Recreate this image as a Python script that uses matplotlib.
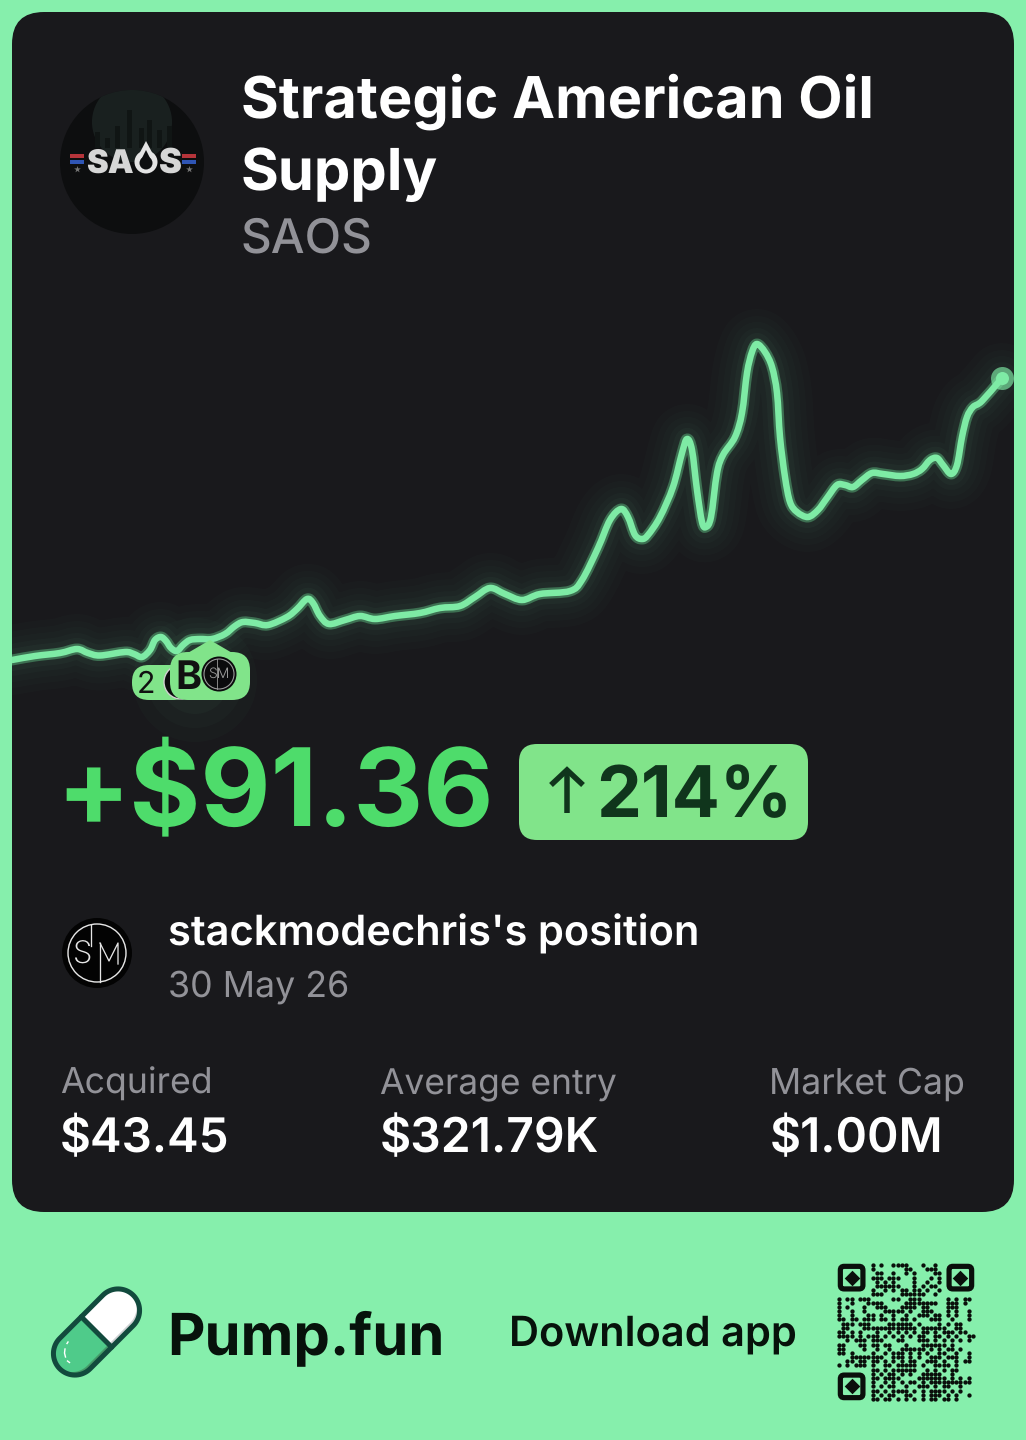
import numpy as np
import matplotlib
matplotlib.use("Agg")
import matplotlib.pyplot as plt
from matplotlib.font_manager import FontProperties
from matplotlib.patches import Circle, FancyBboxPatch, PathPatch, Polygon, Rectangle
from matplotlib.path import Path
from matplotlib.textpath import TextPath

plt.rcParams["text.hinting"] = "no_hinting"
plt.rcParams["text.hinting_factor"] = 1

W, H = 1026, 1440
BG = "#86efac"
CARD = "#19191c"
LINE = "#7eeba5"
PILL = "#81e48a"
PROFIT = "#4edc6b"
DARK = "#10351c"
GREY = "#929298"
FONT = "Inter"

# chart line (time step, value above the chart floor)
price_t = [0, 23, 48, 65, 76, 88, 113, 122, 130, 138, 143, 149, 154, 159, 165, 171, 178, 188, 200, 213,
           223, 231, 243, 256, 275, 285, 295, 301, 308, 317, 333, 348, 363, 383, 408, 428, 448, 463, 478,
           493, 510, 528, 558, 570, 586, 598, 609, 616, 623, 630, 636, 648, 661, 670, 675, 680, 685, 690,
           694, 699, 705, 711, 723, 730, 735, 740, 745, 753, 760, 765, 768, 773, 778, 785, 796, 806, 815,
           825, 833, 841, 850, 860, 871, 888, 901, 910, 918, 925, 931, 939, 945, 950, 955, 961, 970, 990]
price_v = [20, 24, 27, 31, 27, 24.5, 28, 26, 23, 30, 40, 43, 39, 32, 29, 35, 40, 41, 41, 46,
           54, 58, 57, 55, 63, 71, 81, 77, 64, 56, 60, 64, 61, 64, 67, 72, 74, 83, 92,
           86, 80, 86, 89, 100, 132, 160, 171, 163, 145, 141, 145, 163, 193, 227, 241, 230, 190, 158,
           153, 163, 207, 225, 243, 267, 307, 328, 336, 328, 313, 287, 243, 203, 178, 168, 163, 170, 182,
           195, 195, 193, 200, 207, 206, 204, 206, 211, 220, 222, 215, 206, 215, 243, 263, 273, 279, 302]

title_lines = ["Strategic American Oil", "Supply"]
ticker = "SAOS"
profit_label = "+$91.36"
percent_label = "214%"
owner_label = "stackmodechris's position"
date_label = "30 May 26"
stat_names = ["Acquired", "Average entry", "Market Cap"]
stat_values = ["$43.45", "$321.79K", "$1.00M"]

# dark qr modules per row, the three corner squares are drawn apart
qr_rows = [
    [8, 10, 13, 14, 15, 16, 20, 23],
    [8, 16, 17, 21, 22, 23],
    [9, 10, 13, 16, 18, 23, 24],
    [8, 9, 10, 12, 13, 14, 18, 22, 24],
    [9, 11, 13, 18, 21, 24],
    [9, 10, 11, 12, 13, 14, 18, 20, 22, 23],
    [8, 11, 13, 15, 16, 18, 19, 21, 24],
    [8, 9, 10, 15, 16, 17, 18, 19, 20, 23],
    [0, 2, 3, 5, 6, 7, 13, 14, 17, 18, 19, 26, 28, 30, 31],
    [0, 3, 7, 8, 9, 10, 16, 17, 18, 19, 20, 21, 22, 23, 26, 27, 28, 30],
    [0, 2, 6, 9, 10, 11, 15, 16, 17, 18, 20, 21, 26, 27, 28],
    [0, 3, 6, 11, 12, 13, 14, 15, 17, 20, 21, 22, 26, 28, 31],
    [0, 3, 7, 8, 10, 13, 16, 19, 20, 21, 23, 24, 26, 28, 31],
    [0, 1, 3, 4, 6, 7, 8, 10, 11, 13, 15, 16, 18, 22, 23, 24, 27, 31],
    [1, 2, 3, 5, 6, 7, 12, 13, 14, 15, 16, 17, 19, 24, 26, 28, 29],
    [1, 2, 6, 7, 8, 9, 10, 11, 12, 13, 14, 15, 16, 17, 18, 20, 21, 22, 23, 24, 25, 28, 29],
    [0, 1, 3, 5, 9, 12, 14, 16, 18, 20, 21, 23, 25, 26, 27, 29, 30],
    [0, 1, 2, 3, 5, 7, 8, 9, 11, 13, 15, 17, 19, 20, 23, 24, 26, 28, 31, 32],
    [2, 4, 5, 6, 8, 9, 10, 14, 15, 19, 20, 21, 23, 25, 27, 29, 31],
    [0, 1, 5, 6, 8, 9, 11, 12, 16, 20, 21, 22, 23, 24, 25, 27],
    [0, 1, 6, 9, 12, 15, 16, 17, 18, 19, 20, 22, 24, 26, 27, 29],
    [0, 1, 3, 8, 11, 13, 14, 15, 17, 19, 21, 24, 25, 28, 31],
    [3, 4, 5, 6, 7, 8, 9, 10, 13, 14, 15, 17, 19, 22, 23, 24, 26, 27, 28, 31],
    [2, 3, 5, 6, 8, 9, 11, 13, 15, 17, 18, 21, 22, 23, 25, 28, 30, 31],
    [0, 2, 4, 5, 6, 8, 11, 12, 14, 15, 16, 17, 18, 20, 23, 24, 25, 26, 28],
    [8, 9, 11, 13, 14, 15, 16, 17, 18, 21, 23, 25, 27, 28],
    [8, 10, 12, 13, 15, 17, 20, 21, 22, 23, 24, 27],
    [8, 9, 11, 12, 13, 14, 19, 20, 21, 22, 23, 24, 25, 27, 29, 31],
    [8, 11, 13, 15, 17, 18, 20, 22, 23, 24, 25, 26, 27, 28, 29, 30, 31],
    [8, 10, 12, 13, 16, 19, 20, 21, 23, 25, 26, 29],
    [8, 9, 11, 13, 14, 15, 16, 18, 20, 22, 23, 24, 25, 27, 29],
    [8, 10, 12, 13, 16, 17, 20, 22, 23, 24, 26, 28, 31],
    [8, 9, 11, 12, 14, 16, 18, 20, 22, 23, 25, 26, 28],
]


def px(n):
    # figure pixels to points
    return n * 72 / 100


def smooth_path(xs, ys):
    # cubic segments through the read points
    pts = np.column_stack([xs, ys]).astype(float)
    tan = np.gradient(pts, axis=0)
    verts, codes = [pts[0]], [Path.MOVETO]
    for i in range(len(pts) - 1):
        verts += [pts[i] + tan[i] / 3, pts[i + 1] - tan[i + 1] / 3, pts[i + 1]]
        codes += [Path.CURVE4] * 3
    return Path(verts, codes)


def put(ax, s, x, base, width, color, weight="regular", family=FONT, **kw):
    # text with left edge x and baseline base, sized to span width pixels
    fp = FontProperties(family=family, weight=weight)
    ext = TextPath((0, 0), s, size=100, prop=fp).get_extents()
    size = 100 * width / ext.width
    x0 = x - ext.x0 * size / 100
    return ax.text(x0, base, s, color=color, fontproperties=fp, fontsize=px(size),
                   ha="left", va="baseline", **kw)


def round_box(ax, x0, y0, x1, y1, r, color, **kw):
    box = FancyBboxPatch((x0 + r, y0 + r), x1 - x0 - 2 * r, y1 - y0 - 2 * r,
                         boxstyle=f"round,pad={r},rounding_size={r}", fc=color, ec="none", **kw)
    ax.add_patch(box)
    return box


def to_pill(cx, cy, u, v):
    # pill axis runs up and to the right at 45 degrees
    k = np.sqrt(0.5)
    return np.column_stack([cx + (u + v) * k, cy + (v - u) * k])


def half_pill(cx, cy, half, r, side):
    # one half of the capsule, side +1 is the upper right end
    a = np.linspace(-np.pi / 2, np.pi / 2, 40)
    u = side * np.r_[0, half + r * np.cos(a), 0]
    v = np.r_[-r, r * np.sin(a), r]
    return to_pill(cx, cy, u, v)


fig = plt.figure(figsize=(W / 100, H / 100), dpi=100, facecolor=BG)
base = fig.add_axes([0, 0, 1, 1])
base.set_xlim(0, W)
base.set_ylim(H, 0)
base.axis("off")
round_box(base, 12, 12, 1014, 1212, 32, CARD)

# price line with its glow, floor of the chart sits at pixel row 680
top_px, bottom_px = 300, 740
chart = fig.add_axes([12 / W, 1 - bottom_px / H, 1002 / W, (bottom_px - top_px) / H])
chart.set_xlim(0, 1002)
chart.set_ylim(680 - bottom_px, 680 - top_px)
chart.axis("off")
chart.patch.set_alpha(0)
line_path = smooth_path(price_t, price_v)
for lw, alpha in [(70, 0.014), (56, 0.016), (44, 0.02), (32, 0.025), (22, 0.035)]:
    chart.add_patch(PathPatch(line_path, fc="none", ec=LINE, lw=px(lw), alpha=alpha, capstyle="round", joinstyle="round"))
chart.add_patch(PathPatch(line_path, fc="none", ec="#3d7052", lw=px(11), capstyle="round", joinstyle="round"))
chart.add_patch(PathPatch(line_path, fc="none", ec=LINE, lw=px(6.5), capstyle="round", joinstyle="round"))
chart.scatter(price_t[-1:], price_v[-1:], s=px(23) ** 2, color=LINE, alpha=0.65, linewidths=0, zorder=5)
chart.scatter(price_t[-1:], price_v[-1:], s=px(13) ** 2, color=LINE, linewidths=0, zorder=6)

top = fig.add_axes([0, 0, 1, 1])
top.set_xlim(0, W)
top.set_ylim(H, 0)
top.axis("off")
top.patch.set_alpha(0)

# trade markers
for r, a in [(62, 0.02), (48, 0.025), (34, 0.03)]:
    top.add_patch(Circle((195, 680), r, fc=LINE, ec="none", alpha=a))
round_box(top, 132, 665, 190, 700, 17, PILL)
put(top, "2", 139, 693, 14, "#111")
top.add_patch(Circle((181, 682), 17, fc="#0b0b0d", ec="#cfcfcf", lw=1))
round_box(top, 170, 652, 250, 700, 18, PILL)
top.add_patch(Polygon([(186, 654), (210, 640), (234, 654)], fc=PILL, ec="none"))
put(top, "B", 178, 689, 22, "#111", weight="bold")
top.add_patch(Circle((219, 674), 17.5, fc="#0b0b0d", ec="none"))
top.add_patch(Circle((219, 674), 15, fc="none", ec="#9a9a9a", lw=0.8))
top.text(219, 674, "SM", color="#9a9a9a", fontsize=px(14), ha="center", va="center", family=FONT, weight="light")
top.plot([217, 217], [659, 689], color="#9a9a9a", lw=0.6)

# token logo
logo = Circle((132, 162), 72, fc="#0d0e0f", ec="none")
top.add_patch(logo)
haze = Circle((132, 122), 40, fc="#263330", ec="none", alpha=0.5)
top.add_patch(haze)
haze.set_clip_path(logo)
skyline_x = [95, 105, 115, 127, 139, 147, 157, 167]
skyline_h = [16, 10, 22, 38, 20, 28, 18, 22]
for sx, sh in zip(skyline_x, skyline_h):
    bar = Rectangle((sx, 148 - sh), 5, sh, fc="#101514", ec="none")
    top.add_patch(bar)
put(top, "SA", 87, 173, 46, "#d6d6d6", weight="black")
put(top, "S", 159, 173, 21, "#d6d6d6", weight="black")
top.add_patch(Circle((146, 162), 11.5, fc="#e4e4e4", ec="none"))
top.add_patch(Polygon([(146, 141), (137, 158), (155, 158)], fc="#e4e4e4", ec="none"))
top.add_patch(Circle((146, 163), 6.5, fc="#0e0f10", ec="none"))
top.add_patch(Polygon([(146, 150), (141, 160), (151, 160)], fc="#0e0f10", ec="none"))
for sx0, sx1 in [(70, 84), (182, 196)]:
    top.add_patch(Rectangle((sx0, 154), sx1 - sx0, 3.5, fc="#b5343a", ec="none"))
    top.add_patch(Rectangle((sx0, 160), sx1 - sx0, 3.5, fc="#2f55b5", ec="none"))
    top.scatter([(sx0 + sx1) / 2], [169], marker="*", s=26, color="#777", linewidths=0)

# header
put(top, title_lines[0], 243, 118, 627, "white", weight="bold")
put(top, title_lines[1], 243, 190, 194, "white", weight="bold")
put(top, ticker, 243, 252, 127, GREY, weight="medium")

# profit
put(top, profit_label, 66, 825, 423, PROFIT, weight="bold")
round_box(top, 519, 744, 808, 840, 18, PILL)
top.plot([567, 567], [773, 813], color=DARK, lw=px(5.5), solid_capstyle="butt")
top.plot([551, 567, 583], [785, 770, 785], color=DARK, lw=px(5.5), solid_capstyle="butt", solid_joinstyle="miter")
put(top, percent_label, 600, 817, 186, DARK, weight="bold")

# owner
top.add_patch(Circle((97, 953), 35, fc="#030303", ec="none"))
top.add_patch(Circle((97, 953), 29, fc="none", ec="#e6e6e6", lw=px(1.4)))
top.plot([91, 91], [925, 946], color="#e6e6e6", lw=px(1.3))
top.plot([100, 100], [943, 982], color="#e6e6e6", lw=px(1.3))
top.plot([100, 109, 118, 118], [943, 961, 943, 964], color="#e6e6e6", lw=px(1.3))
put(top, "S", 75, 964, 15, "#e6e6e6", weight="light")
put(top, owner_label, 170, 946, 527, "white", weight="semibold")
put(top, date_label, 170, 997, 177, GREY)

# stats
stat_x = [61, 381, 772]
value_x = [62, 382, 772]
name_w = [149, 235, 191]
value_w = [165, 216, 168]
for x, vx, n, v, nw, vw in zip(stat_x, value_x, stat_names, stat_values, name_w, value_w):
    put(top, n, x, 1094, nw, GREY)
    put(top, v, vx, 1152, vw, "white", weight="semibold")

# pill icon
cx, cy, half, r = 96.5, 1332, 30.5, 21.5
for side, dark_fc, light_fc in [(1, "#cfd2d4", "white"), (-1, "#459a68", "#4fcb8a")]:
    shade = Polygon(half_pill(cx, cy, half, r, side), fc=dark_fc, ec="none")
    top.add_patch(shade)
    light = Polygon(half_pill(cx - 3, cy - 3, half, r, side), fc=light_fc, ec="none")
    top.add_patch(light)
    light.set_clip_path(shade)
    rim = half_pill(cx, cy, half, r, side)
    top.plot(rim[:, 0], rim[:, 1], color="#124a3d", lw=px(5), solid_capstyle="round", solid_joinstyle="round")
divider = to_pill(cx, cy, np.array([0, 0]), np.array([-r, r]))
top.plot(divider[:, 0], divider[:, 1], color="#124a3d", lw=px(5), solid_capstyle="butt")
top.plot([65, 64.5, 65.5], [1349, 1353, 1357], color="white", lw=px(1.4))
top.plot([67, 68], [1343.5, 1342], color="white", lw=px(1.4))
top.plot([67.5, 69.5], [1361, 1362.5], color="white", lw=px(1.4))

put(top, "Pump.fun", 171, 1354, 270, "#07120b", weight="bold")
put(top, "Download app", 512, 1346, 283, "#07120b", weight="semibold")

# qr code
qr = fig.add_axes([837 / W, 1 - 1401 / H, 138 / W, 138 / H])
qr.set_xlim(-0.5, 32.5)
qr.set_ylim(32.5, -0.5)
qr.axis("off")
qr.patch.set_alpha(0)
qx = [c for row in qr_rows for c in row]
qy = [i for i, row in enumerate(qr_rows) for c in row]
qr.scatter(qx, qy, s=px(4.3) ** 2, color="#0a0f0b", linewidths=0, clip_on=False)
for fx, fy in [(3, 3), (29, 3), (3, 29)]:
    qr.add_patch(FancyBboxPatch((fx - 2.7, fy - 2.7), 5.4, 5.4, boxstyle="round,pad=0,rounding_size=0.9",
                                fc="none", ec="#0a0f0b", lw=px(5.2), clip_on=False))
    qr.scatter([fx], [fy], marker="D", s=px(11) ** 2, color="#0a0f0b", linewidths=0)

fig.savefig("out.png", dpi=100, facecolor=BG)
